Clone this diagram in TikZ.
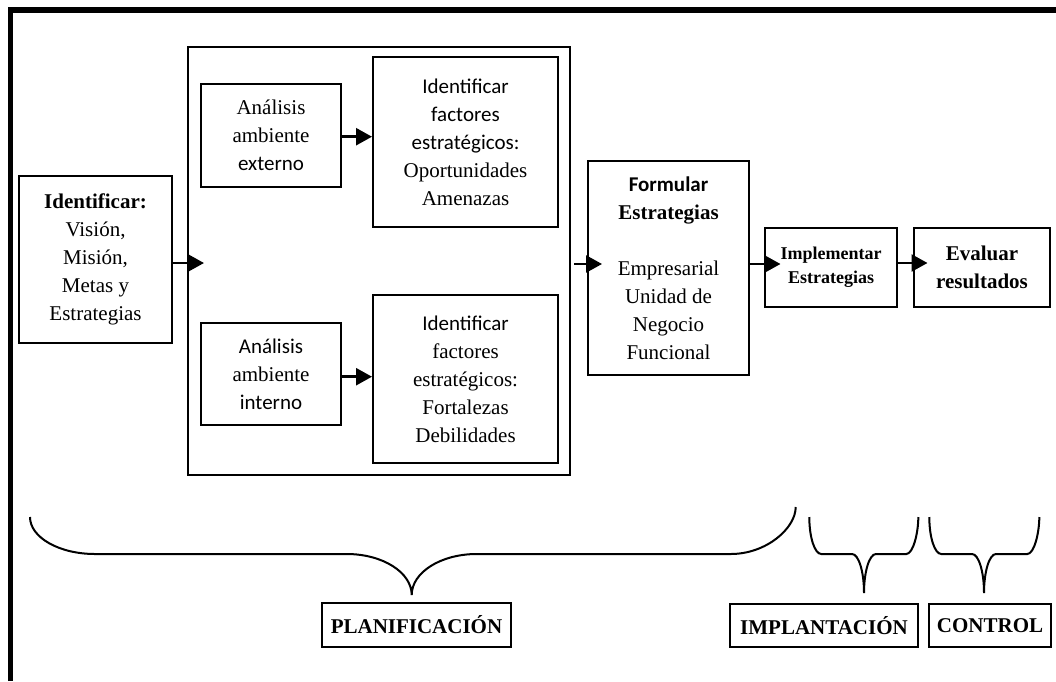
\documentclass[tikz,border=0pt]{standalone}
\usepackage{fontspec}
\setmainfont{Liberation Serif}
\newfontfamily\sanf{Carlito}
\usetikzlibrary{arrows.meta}

% curly brace opening downwards:
% #1,#2 left end; #3,#4 right end; #5 tip x; #6 level of the flat part; #7 tip y; #8 corner radius along the brace
\newcommand\wbrace[8]{%
  \draw[bracepen] (#1,#2) .. controls (#1,{#2+0.552*(#6-#2)}) and ({#1+0.448*#8},#6) .. ({#1+#8},#6)
    -- ({#5-#8},#6) .. controls ({#5-0.448*#8},#6) and (#5,{#6+0.448*(#7-#6)}) .. (#5,#7)
    .. controls (#5,{#6+0.448*(#7-#6)}) and ({#5+0.448*#8},#6) .. ({#5+#8},#6)
    -- ({#3-#8},#6) .. controls ({#3-0.448*#8},#6) and (#3,{#6-0.552*(#6-#4)}) .. (#3,#4);}

\begin{document}
\begin{tikzpicture}[x=1pt,y=-1pt,
  box/.style={draw, line width=2pt, rectangle, inner sep=0pt, align=center,
    font=\fontsize{21}{28}\selectfont},
  tag/.style={box, font=\bfseries\fontsize{21}{28}\selectfont},
  arr/.style={line width=2.5pt, -{Triangle[length=16pt,width=17pt]}},
  bracepen/.style={line width=2pt},
  frame/.style={line width=5.3pt, line join=miter}
]
\useasboundingbox (0,0) rectangle (1056,681);

% page frame (top and left sides)
\draw[frame] (10.8,681) |- (1056,10);

% planning stage
\node[box, minimum width=153pt, minimum height=167pt] (ident) at (95.5,259.5)
  {{\bfseries Identificar:}\\Visión,\\Misión,\\Metas y\\Estrategias};

\node[box, minimum width=382pt, minimum height=428pt] (env) at (379,261) {};

\node[box, minimum width=140pt, minimum height=103pt] (ext) at (271,135.5)
  {Análisis\\ambiente\\{\sanf externo}};
\node[box, minimum width=185pt, minimum height=170pt] (opp) at (465.5,142)
  {{\sanf Identificar}\\{\sanf factores}\\{\sanf estratégicos:}\\Oportunidades\\Amenazas};

\node[box, minimum width=140pt, minimum height=102pt] (int) at (271,374)
  {{\sanf Análisis}\\ambiente\\{\sanf interno}};
\node[box, minimum width=185pt, minimum height=168pt] (str) at (465.5,379)
  {{\sanf Identificar}\\factores\\estratégicos:\\Fortalezas\\Debilidades};

\node[box, minimum width=161pt, minimum height=214pt] (form) at (668.5,268)
  {{\sanf\bfseries Formular}\\{\bfseries Estrategias}\\[28pt]Empresarial\\Unidad de\\Negocio\\Funcional};

% implementation and control
\node[box, minimum width=132pt, minimum height=79pt, font=\bfseries\fontsize{18}{24}\selectfont]
  (impl) at (831,267.5) {Implementar\\Estrategias};
\node[box, minimum width=136pt, minimum height=79pt, font=\bfseries\fontsize{21}{28}\selectfont]
  (eval) at (982,267.5) {Evaluar\\resultados};

% flow arrows
\coordinate (ya) at (0,263);
\coordinate (yb) at (0,136.7);
\coordinate (yc) at (0,376.7);
\coordinate (yd) at (0,264);
\draw[arr] (ident.east |- ya) -- ([xshift=17pt]env.west |- ya);
\draw[arr] (ext.east |- yb) -- (opp.west |- yb);
\draw[arr] (int.east |- yc) -- (str.west |- yc);
\draw[arr] ([xshift=3pt]env.east |- yd) -- ([xshift=15pt]form.west |- yd);
\draw[arr] ([xshift=-2pt]form.east |- yd) -- ([xshift=16.5pt]impl.west |- yd);
\draw[arr] (impl.east |- ya) -- ([xshift=14.5pt]eval.west |- ya);

% stage braces
\wbrace{30}{517}{795.7}{507}{411.7}{554}{595}{65}
\wbrace{809.3}{517}{918.3}{517}{864}{554}{593}{12}
\wbrace{929.3}{517}{1039.3}{517}{984}{554}{593}{12}

% stage labels
\node[tag, minimum width=189pt, minimum height=44pt] (plan) at (416.5,625) {PLANIFICACIÓN};
\node[tag, minimum width=188pt, minimum height=43pt] (impt) at (824,625.5) {IMPLANTACIÓN};
\node[tag, minimum width=122pt, minimum height=43pt] (ctrl) at (990,625.5) {CONTROL};
\end{tikzpicture}
\end{document}
